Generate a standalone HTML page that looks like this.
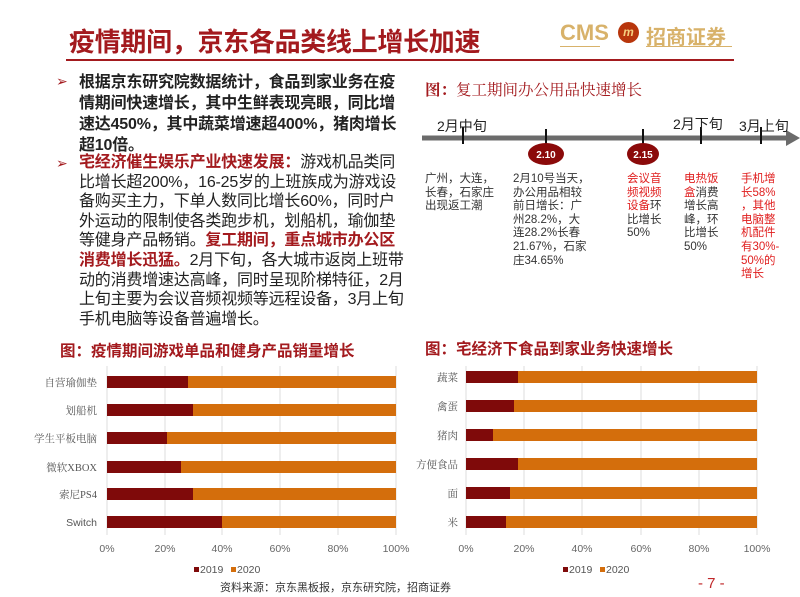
<!DOCTYPE html>
<html><head><meta charset="utf-8"><style>
body{margin:0;width:800px;height:597px;background:#fff;position:relative;overflow:hidden;font-family:"Liberation Sans","Noto Sans CJK SC",sans-serif}
.a{position:absolute;white-space:nowrap}
.red{color:#a31a1e}
.bul{position:absolute;left:79px;font-size:16px;line-height:20px;color:#222;letter-spacing:-0.2px;white-space:nowrap}
.col{position:absolute;top:173px;font-size:11.5px;line-height:13.6px;color:#333}
.ser{font-family:"Liberation Serif","Noto Serif CJK SC",serif}
</style></head><body>
<div class="a red" style="left:69px;top:22px;font-size:26px;font-weight:bold;letter-spacing:-0.3px">疫情期间，京东各品类线上增长加速</div>
<div style="position:absolute;left:66px;top:59px;width:668px;height:2px;background:#a31a1e"></div>
<div class="a" style="left:560px;top:20px;font-size:22px;font-weight:bold;color:#d8b26a">CMS</div>
<div style="position:absolute;left:618px;top:22px;width:21px;height:21px;border-radius:50%;background:#b8360c;color:#f5d080;font-size:12px;font-style:italic;font-weight:bold;text-align:center;line-height:21px">m</div>
<div class="a" style="left:646px;top:21px;font-size:20px;font-weight:bold;color:#d8b26a">招商证券</div>
<div style="position:absolute;left:560px;top:46px;width:40px;height:1px;background:#d8b26a"></div>
<div style="position:absolute;left:646px;top:46px;width:86px;height:1px;background:#d8b26a"></div>

<div class="a" style="left:56px;top:73px;font-size:14px;color:#a31a1e">➢</div>
<div class="bul red" style="top:72px;font-weight:bold;line-height:21px">根据京东研究院数据统计，食品到家业务在疫<br>情期间快速增长，其中生鲜表现亮眼，同比增<br>速达450%，其中蔬菜增速超400%，猪肉增长<br>超10倍。</div>
<div class="a" style="left:56px;top:155px;font-size:14px;color:#a31a1e">➢</div>
<div class="bul" style="top:153px;line-height:19.6px"><b class="red">宅经济催生娱乐产业快速发展：</b>游戏机品类同<br>比增长超200%，16-25岁的上班族成为游戏设<br>备购买主力，下单人数同比增长60%，同时户<br>外运动的限制使各类跑步机，划船机，瑜伽垫<br>等健身产品畅销。<b class="red">复工期间，重点城市办公区<br>消费增长迅猛。</b>2月下旬，各大城市返岗上班带<br>动的消费增速达高峰，同时呈现阶梯特征，2月<br>上旬主要为会议音频视频等远程设备，3月上旬<br>手机电脑等设备普遍增长。</div>

<div class="a red ser" style="left:425px;top:78px;font-size:15.5px"><b>图：</b>复工期间办公用品快速增长</div>
<svg style="position:absolute;left:0;top:0" width="800" height="597">
<line x1="422" y1="138" x2="788" y2="138" stroke="#6b6b6b" stroke-width="5"/>
<polygon points="786,130 800,138 786,146" fill="#6b6b6b"/>
<g stroke="#111" stroke-width="2"><line x1="463" y1="127" x2="463" y2="144"/><line x1="546" y1="129" x2="546" y2="144"/><line x1="643" y1="129" x2="643" y2="144"/><line x1="701" y1="127" x2="701" y2="144"/><line x1="761" y1="127" x2="761" y2="144"/></g>
<ellipse cx="546" cy="154" rx="18" ry="11" fill="#8b0a0a"/><ellipse cx="643" cy="154" rx="16" ry="11" fill="#8b0a0a"/>
<text x="546" y="158" fill="#fff" font-size="10" font-weight="bold" text-anchor="middle" font-family="Liberation Sans">2.10</text>
<text x="643" y="158" fill="#fff" font-size="10" font-weight="bold" text-anchor="middle" font-family="Liberation Sans">2.15</text>
<g font-size="14" fill="#222" font-family="Liberation Sans,Noto Sans CJK SC"><text x="437" y="131">2月中旬</text><text x="673" y="129">2月下旬</text><text x="739" y="131">3月上旬</text></g>
</svg>
<div class="col" style="left:425px">广州，大连，<br>长春，石家庄<br>出现返工潮</div>
<div class="col" style="left:513px">2月10号当天，<br>办公用品相较<br>前日增长：广<br>州28.2%，大<br>连28.2%长春<br>21.67%，石家<br>庄34.65%</div>
<div class="col" style="left:627px"><span style="color:#e02020">会议音<br>频视频<br>设备</span>环<br>比增长<br>50%</div>
<div class="col" style="left:684px"><span style="color:#e02020">电热饭<br>盒</span>消费<br>增长高<br>峰，环<br>比增长<br>50%</div>
<div class="col" style="left:741px;color:#e02020">手机增<br>长58%<br>，其他<br>电脑整<br>机配件<br>有30%-<br>50%的<br>增长</div>

<div class="a red" style="left:60px;top:339px;font-size:15.5px;font-weight:bold">图：疫情期间游戏单品和健身产品销量增长</div>
<div class="a red" style="left:425px;top:337px;font-size:15.5px;font-weight:bold">图：宅经济下食品到家业务快速增长</div>

<svg style="position:absolute;left:0;top:0" width="800" height="597" font-family="Liberation Serif,Noto Serif CJK SC,serif">
<g stroke="#ddd" stroke-width="1">
<line x1="107" y1="366" x2="107" y2="535"/><line x1="165" y1="366" x2="165" y2="535"/><line x1="222" y1="366" x2="222" y2="535"/><line x1="280" y1="366" x2="280" y2="535"/><line x1="338" y1="366" x2="338" y2="535"/><line x1="396" y1="366" x2="396" y2="535"/>
<line x1="466" y1="366" x2="466" y2="535"/><line x1="524" y1="366" x2="524" y2="535"/><line x1="582" y1="366" x2="582" y2="535"/><line x1="641" y1="366" x2="641" y2="535"/><line x1="699" y1="366" x2="699" y2="535"/><line x1="757" y1="366" x2="757" y2="535"/>
</g>
<g fill="#d46e0c">
<rect x="107" y="376" width="289" height="12"/><rect x="107" y="404" width="289" height="12"/><rect x="107" y="432" width="289" height="12"/><rect x="107" y="461" width="289" height="12"/><rect x="107" y="488" width="289" height="12"/><rect x="107" y="516" width="289" height="12"/>
<rect x="466" y="371" width="291" height="12"/><rect x="466" y="400" width="291" height="12"/><rect x="466" y="429" width="291" height="12"/><rect x="466" y="458" width="291" height="12"/><rect x="466" y="487" width="291" height="12"/><rect x="466" y="516" width="291" height="12"/>
</g>
<g fill="#7f0a0a">
<rect x="107" y="376" width="81" height="12"/><rect x="107" y="404" width="86" height="12"/><rect x="107" y="432" width="60" height="12"/><rect x="107" y="461" width="74" height="12"/><rect x="107" y="488" width="86" height="12"/><rect x="107" y="516" width="115" height="12"/>
<rect x="466" y="371" width="52" height="12"/><rect x="466" y="400" width="48" height="12"/><rect x="466" y="429" width="27" height="12"/><rect x="466" y="458" width="52" height="12"/><rect x="466" y="487" width="44" height="12"/><rect x="466" y="516" width="40" height="12"/>
</g>
<g font-size="10.5" fill="#555" text-anchor="end">
<text x="97" y="386">自营瑜伽垫</text><text x="97" y="414">划船机</text><text x="97" y="442">学生平板电脑</text><text x="97" y="471">微软XBOX</text><text x="97" y="498">索尼PS4</text><text x="97" y="526" font-family="Liberation Sans">Switch</text>
<text x="458" y="381">蔬菜</text><text x="458" y="410">禽蛋</text><text x="458" y="439">猪肉</text><text x="458" y="468">方便食品</text><text x="458" y="497">面</text><text x="458" y="526">米</text>
</g>
<g font-size="10.5" fill="#666" text-anchor="middle" font-family="Liberation Sans">
<text x="107" y="552">0%</text><text x="165" y="552">20%</text><text x="222" y="552">40%</text><text x="280" y="552">60%</text><text x="338" y="552">80%</text><text x="396" y="552">100%</text>
<text x="466" y="552">0%</text><text x="524" y="552">20%</text><text x="582" y="552">40%</text><text x="641" y="552">60%</text><text x="699" y="552">80%</text><text x="757" y="552">100%</text>
</g>
<g font-size="10.5" fill="#555" font-family="Liberation Sans">
<rect x="194" y="567" width="5" height="5" fill="#7f0a0a"/><text x="200" y="573">2019</text><rect x="231" y="567" width="5" height="5" fill="#d46e0c"/><text x="237" y="573">2020</text>
<rect x="563" y="567" width="5" height="5" fill="#7f0a0a"/><text x="569" y="573">2019</text><rect x="600" y="567" width="5" height="5" fill="#d46e0c"/><text x="606" y="573">2020</text>
</g>
</svg>
<div class="a" style="left:220px;top:579px;font-size:11px;color:#333">资料来源：京东黑板报，京东研究院，招商证券</div>
<div class="a" style="left:698px;top:575px;font-size:15px;color:#c0282a">- 7 -</div>
</body></html>
